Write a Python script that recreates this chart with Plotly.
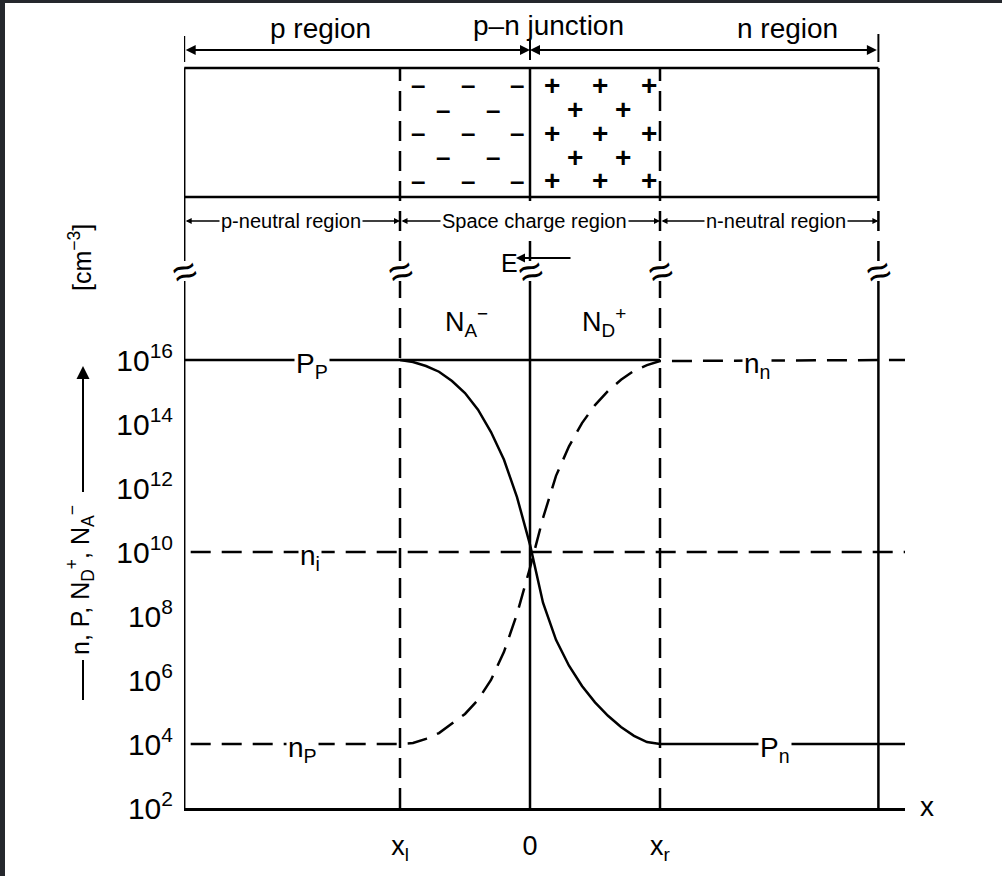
import plotly.graph_objects as go

# ---------------- data ----------------
x_pos = [-1.0, -0.9, -0.8, -0.7, -0.6, -0.5, -0.4, -0.3, -0.2, -0.1, 0.0,
         0.1, 0.2, 0.3, 0.4, 0.5, 0.6, 0.7, 0.8, 0.9, 1.0]
p_conc = [1.0e16, 8.7e15, 6.5e15, 4.3e15, 2.2e15, 9.3e14, 2.8e14, 5.6e13, 7.6e12,
          5.2e11, 1.7e10, 2.6e8, 1.8e7, 2.8e6, 6.5e5, 2.0e5, 7.6e4, 3.4e4, 1.8e4,
          1.15e4, 1.0e4]
n_conc = [1.0e4, 1.07e4, 1.45e4, 2.2e4, 4.3e4, 8.7e4, 2.4e5, 1.0e6, 7.6e6, 1.15e8,
          3.2e9, 1.15e11, 2.4e12, 2.0e13, 1.07e14, 3.9e14, 1.07e15, 2.4e15, 4.6e15,
          6.9e15, 9.3e15]
p_p = 1.0e16          # majority holes, p side
n_n = 1.0e16          # majority electrons, n side
p_n = 1.0e4           # minority holes, n side
n_p = 1.0e4           # minority electrons, p side
n_i = 1.0e10          # intrinsic
N_dop = 1.0e16        # N_A^- / N_D^+
x_left = -2.66        # left edge of device
x_right = 2.68        # right edge of device
x_end = 2.885         # end of x axis
y_tickvals = [1e2, 1e4, 1e6, 1e8, 1e10, 1e12, 1e14, 1e16]
y_ticktext = ["10<sup>2</sup>", "10<sup>4</sup>", "10<sup>6</sup>", "10<sup>8</sup>",
              "10<sup>10</sup>", "10<sup>12</sup>", "10<sup>14</sup>", "10<sup>16</sup>"]
x_tickvals = [-1, 0, 1]
x_ticktext = ["x<sub>l</sub>", "0", "x<sub>r</sub>"]

# ---------------- layout helpers ----------------
W, H = 1002, 876
ML, MR, MT, MB = 184, 97, 20, 68
PW, PH = W - ML - MR, H - MT - MB
FONT = "Liberation Sans, Arial, sans-serif"


def yp(py):   # page pixel y -> paper y
    return (H - MB - py) / PH


def xp(px):   # page pixel x -> paper x
    return (px - ML) / PW


def ux(px):   # page pixel x -> x data (schematic placement)
    return (px - 530) / 130


fig = go.Figure()
blk = "black"
DASH = "20px,11px"

fig.add_trace(go.Scatter(x=[x_left] + x_pos + [x_end], y=[p_p] + p_conc + [p_n],
                         mode="lines", line=dict(color=blk, width=2.5), hoverinfo="skip"))
fig.add_trace(go.Scatter(x=[x_pos[0], x_pos[-1]], y=[N_dop, N_dop],
                         mode="lines", line=dict(color=blk, width=2.5), hoverinfo="skip"))
fig.add_trace(go.Scatter(x=[x_left + 0.05] + x_pos + [x_end], y=[n_p] + n_conc + [n_n],
                         mode="lines", line=dict(color=blk, width=2.5, dash=DASH), hoverinfo="skip"))
fig.add_trace(go.Scatter(x=[x_left + 0.05, x_end], y=[n_i, n_i],
                         mode="lines", line=dict(color=blk, width=2.5, dash=DASH), hoverinfo="skip"))

shapes = []
# dark scan borders
shapes.append(dict(type="rect", xref="paper", yref="paper", x0=xp(0), x1=xp(5), y0=yp(H), y1=yp(0),
                   fillcolor="#25282d", line=dict(width=0), layer="above"))
shapes.append(dict(type="rect", xref="paper", yref="paper", x0=xp(0), x1=xp(W), y0=yp(3), y1=yp(0),
                   fillcolor="#25282d", line=dict(width=0), layer="above"))


def vseg(u, top, bot, dash="solid", w=2.5):
    shapes.append(dict(type="line", xref="x", yref="paper", x0=u, x1=u, y0=yp(bot), y1=yp(top),
                       line=dict(color=blk, width=w, dash=dash)))


def hseg(u0, u1, py, dash="solid", w=2.5):
    shapes.append(dict(type="line", xref="x", yref="paper", x0=u0, x1=u1, y0=yp(py), y1=yp(py),
                       line=dict(color=blk, width=w, dash=dash)))


vdash = "20px,10px"
vseg(x_left, 281, 808)
vseg(x_left, 68, 261)
vseg(x_left, 36, 62, w=2)
vseg(-1, 281, 808, vdash)
vseg(-1, 68, 261, vdash)
vseg(0, 281, 808)
vseg(0, 197, 261, vdash)
vseg(0, 68, 197)
vseg(0, 40, 60, w=2)
vseg(1, 281, 808, vdash)
vseg(1, 68, 261, vdash)
vseg(x_right, 281, 808)
vseg(x_right, 197, 261, vdash)
vseg(x_right, 68, 197)
vseg(x_right, 34, 62, w=2)
hseg(x_left, x_right, 68)
hseg(x_left, x_right, 197)
# y-title lines
shapes.append(dict(type="line", xref="paper", yref="paper", x0=xp(83), x1=xp(83), y0=yp(700), y1=yp(660),
                   line=dict(color=blk, width=2)))
shapes.append(dict(type="line", xref="paper", yref="paper", x0=xp(83), x1=xp(83), y0=yp(492), y1=yp(385),
                   line=dict(color=blk, width=2)))

ann = []


def txt(x, y, s, size=22, xref="x", yref="paper", bg=None, **kw):
    d = dict(x=x, y=y, xref=xref, yref=yref, text=s, showarrow=False,
             xanchor="center", yanchor="middle",
             font=dict(family=FONT, size=size, color=blk))
    if bg:
        d["bgcolor"] = bg
        d["borderpad"] = 1
    d.update(kw)
    ann.append(d)


def arrow2(u_head, u_tail, py, heads="end+start", size=1.0, w=2):
    ann.append(dict(x=u_head, y=yp(py), xref="x", yref="paper", text="", showarrow=True,
                    ax=(u_tail - u_head) * 130, ay=0, axref="pixel", ayref="pixel",
                    arrowhead=2, startarrowhead=2, arrowside=heads, arrowsize=size,
                    startarrowsize=size, arrowwidth=w, arrowcolor=blk, standoff=0, startstandoff=0))


# top labels and arrows
txt(ux(320), yp(28), "p region", 28)
txt(ux(548), yp(26), "p\u2013n junction", 28)
txt(ux(787), yp(28), "n region", 28)
arrow2(0, x_left, 50)
arrow2(0, x_right, 50)

# charges in the space-charge box
rows = [85, 110, 133, 157, 181]
minus_a = [418, 468, 517]
minus_b = [443, 493]
plus_a = [552, 600, 649]
plus_b = [575, 623]
for i, r in enumerate(rows):
    for px in (minus_a if i % 2 == 0 else minus_b):
        txt(ux(px), yp(r), "<b>\u2013</b>", 26)
    for px in (plus_a if i % 2 == 0 else plus_b):
        txt(ux(px), yp(r), "<b>+</b>", 28)

# region labels below the box
arrow2(-1, x_left, 221, size=0.8, w=1.5)
arrow2(1, -1, 221, size=0.8, w=1.5)
arrow2(x_right, 1, 221, size=0.8, w=1.5)
txt(ux(291), yp(221), "p-neutral region", 20, bg="white")
txt(ux(534), yp(221), "Space charge region", 20, bg="white")
txt(ux(776), yp(221), "n-neutral region", 20, bg="white")

# E field arrow
txt(ux(509), yp(263), "E", 25)
ann.append(dict(x=ux(516), y=yp(258), xref="x", yref="paper", text="", showarrow=True,
                ax=56, ay=0, axref="pixel", ayref="pixel", arrowhead=2, arrowsize=0.9,
                arrowwidth=2, arrowcolor=blk, standoff=0))

# breaks
for u in [x_left, -1, 0, 1, x_right]:
    txt(u, yp(271), "\u2248", 42, textangle=-20)

# curve labels
txt(ux(312), 16, "P<sub>P</sub>", 28, yref="y", bg="white", yshift=-5)
txt(ux(757), 16, "n<sub>n</sub>", 28, yref="y", bg="white", yshift=-5)
txt(ux(310), 10, "n<sub>i</sub>", 28, yref="y", bg="white", yshift=-5)
txt(ux(302), 4, "n<sub>P</sub>", 28, yref="y", bg="white", yshift=-5)
txt(ux(775), 4, "P<sub>n</sub>", 28, yref="y", bg="white", yshift=-5)
txt(ux(466), yp(322), "N<sub>A</sub><sup>\u2212</sup>", 27)
txt(ux(604), yp(322), "N<sub>D</sub><sup>+</sup>", 27)

# axis titles
txt(xp(80), yp(580), "n, P, N<sub>D</sub><sup>+</sup>, N<sub>A</sub><sup>\u2212</sup>", 25,
    xref="paper", textangle=-90)
txt(xp(80), yp(258), "[cm<sup>\u22123</sup>]", 25, xref="paper", textangle=-90)
ann.append(dict(x=xp(83), y=yp(366), xref="paper", yref="paper", text="", showarrow=True,
                ax=0, ay=30, axref="pixel", ayref="pixel", arrowhead=2, arrowsize=1.3,
                arrowwidth=2, arrowcolor=blk, standoff=0))
txt(xp(927), yp(806), "x", 28, xref="paper")

fig.update_layout(
    width=W, height=H, margin=dict(l=ML, r=MR, t=MT, b=MB),
    paper_bgcolor="white", plot_bgcolor="white", showlegend=False,
    shapes=shapes, annotations=ann,
    font=dict(family=FONT, color=blk),
    xaxis=dict(range=[ux(ML), ux(W - MR)], showline=True, linecolor=blk, linewidth=2.5,
               showgrid=False, zeroline=False, ticks="", tickvals=x_tickvals,
               ticktext=x_ticktext, tickfont=dict(size=27, family=FONT), ticklabelstandoff=12),
    yaxis=dict(type="log", range=[2, 2 + PH / 32], showline=False, showgrid=False,
               zeroline=False, ticks="", tickvals=y_tickvals, ticktext=y_ticktext,
               tickfont=dict(size=30, family=FONT), ticklabelstandoff=10),
)

fig.write_html("out.html")
